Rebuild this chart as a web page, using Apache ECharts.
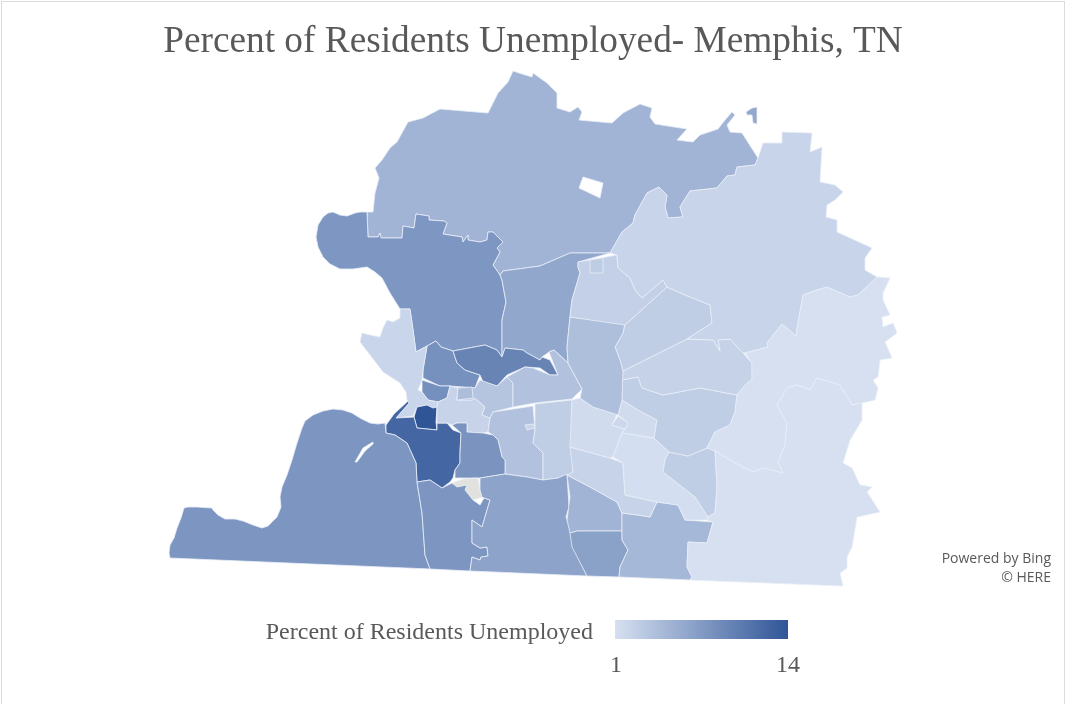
<!DOCTYPE html>
<html><head><meta charset="utf-8">
<style>html,body{margin:0;padding:0;background:#fff;overflow:hidden}#c{position:absolute;left:0;top:0;width:1066px;height:704px}
#f{position:absolute;left:1px;top:1px;width:1062px;height:710px;border:1px solid #dcdcdc;pointer-events:none}</style>
<script src="https://cdn.jsdelivr.net/npm/echarts@6/dist/echarts.min.js"></script>
</head><body><div id="c"></div><div id="f"></div>
<script>
const chartTitle = 'Percent of Residents Unemployed- Memphis, TN';
const legendTitle = 'Percent of Residents Unemployed';
const legendMin = 1, legendMax = 14;
const attribution = ['Powered by Bing', '© HERE'];
const rampColors = ['#D6E0F1','#2F5597'];

const regionNames = ['North','Island','Northwest','Central North','Frayser West','Frayser East','Small North','Riverside','Darkest','Downtown West','Midtown West','Midtown','Midtown Pocket','Midtown East','East A','East B','East Ring','South Central','No Data','Southwest','South A','South B','South C','South D','South E','Center A','Center B','Center C','Center D','Center Ring','Center E','Center F','Center G','Center H','Upper Center','Northeast','Upper Box','East Outer','Southeast','South Far'];
const regionValues = [5.1,6.2,7.85,6.3,8.4,9.6,8.5,2.0,14,12.4,2.2,3.6,4.2,3.8,3.8,2.8,2.0,8.2,null,7.9,7.9,6.7,5.1,6.9,4.7,2.2,1.5,1.5,1.2,1.8,2.7,2.8,2.3,2.8,4.1,2.5,2.9,2.1,1,1];

// Region outlines (map units), outer ring first, then any holes.
const regionShapes = {
'North':[[[367,212],[373,212],[375,193],[379,178],[375,168],[382,160],[390,148],[397,142],[408,122],[423,118],[440,109],[488,113],[498,93],[508,82],[513,71],[522,74],[532,77],[533,73],[547,83],[557,93],[557,108],[570,112],[578,107],[582,112],[579,120],[612,123],[623,113],[640,104],[652,108],[650,117],[655,124],[687,129],[677,140],[693,142],[700,135],[718,129],[725,120],[732,112],[735,115],[727,125],[730,132],[742,133],[758,158],[755,165],[737,167],[735,175],[727,176],[717,188],[690,191],[680,207],[683,217],[668,218],[665,207],[667,195],[659,187],[647,193],[635,215],[633,223],[622,232],[610,253],[570,253],[540,266],[503,271],[500,275],[493,265],[500,252],[497,248],[503,242],[493,232],[488,232],[487,240],[480,242],[468,240],[468,235],[463,242],[462,237],[443,234],[447,223],[444,221],[429,220],[429,216],[416,214],[414,228],[403,226],[402,238],[381,238],[380,233],[378,237],[368,237]],[[579,188],[600,198],[603,183],[583,177]]],
'Island':[[[746,112],[752,108],[757,107],[757,124],[753,123],[752,115],[747,115]]],
'Northwest':[[[367,212],[360,212],[355,213],[347,216],[340,215],[333,212],[328,213],[323,217],[318,225],[316,237],[318,247],[323,257],[330,264],[340,269],[353,269],[367,267],[375,272],[382,278],[390,293],[400,309],[410,309],[413,330],[416,352],[427,346],[436,341],[441,347],[453,351],[485,345],[497,350],[502,357],[502,320],[506,302],[502,280],[500,275],[493,265],[500,252],[497,248],[503,242],[493,232],[488,232],[487,240],[480,242],[468,240],[468,235],[463,242],[462,237],[443,234],[447,223],[444,221],[429,220],[429,216],[416,214],[414,228],[403,226],[402,238],[381,238],[380,233],[378,237],[368,237]]],
'Central North':[[[503,271],[540,266],[570,253],[610,253],[578,262],[578,267],[580,273],[572,300],[570,317],[567,347],[568,363],[554,350],[549,352],[542,357],[540,360],[527,353],[523,350],[505,348],[502,357],[502,320],[506,302],[502,280],[500,275]]],
'Frayser West':[[[427,346],[436,341],[441,347],[453,351],[457,363],[465,370],[480,375],[475,388],[450,386],[440,386],[423,378],[423,370]]],
'Frayser East':[[[453,351],[485,345],[497,350],[502,357],[505,348],[523,350],[527,353],[540,360],[542,357],[550,360],[558,375],[550,375],[540,368],[525,367],[507,375],[497,386],[483,382],[480,375],[465,370],[457,363]]],
'Small North':[[[422,380],[440,386],[450,386],[447,398],[438,402],[428,400],[422,392]]],
'Riverside':[[[410,309],[400,309],[400,318],[393,322],[387,320],[383,328],[380,337],[370,335],[362,333],[360,342],[370,355],[383,372],[400,383],[406,392],[407,400],[409,403],[396,418],[413,416],[417,407],[427,405],[433,408],[437,407],[438,402],[428,400],[422,392],[418,390],[422,380],[423,370],[427,346],[416,352],[413,330]]],
'Darkest':[[[414,417],[417,407],[427,405],[433,408],[437,407],[436,422],[437,430],[417,428]]],
'Downtown West':[[[386,425],[394,414],[408,401],[409,403],[396,418],[414,417],[417,428],[437,430],[437,423],[447,423],[453,430],[461,433],[460,453],[460,463],[455,470],[453,478],[450,482],[442,488],[430,480],[417,482],[416,463],[407,443],[395,435],[386,433]]],
'Midtown West':[[[438,402],[437,407],[437,423],[447,423],[452,425],[457,423],[467,423],[467,432],[483,433],[488,432],[490,418],[482,415],[485,407],[475,398],[472,400],[457,400],[458,388],[450,386],[447,398]]],
'Midtown':[[[458,387],[475,388],[480,380],[497,386],[507,377],[513,383],[513,407],[493,412],[490,418],[482,415],[485,407],[475,398],[472,400],[457,400]]],
'Midtown Pocket':[[[458,388],[472,387],[473,398],[457,400]]],
'Midtown East':[[[507,377],[525,367],[533,368],[550,375],[558,375],[549,352],[554,350],[568,363],[582,389],[572,399],[535,403],[513,407],[513,383]]],
'East A':[[[493,412],[533,406],[535,430],[533,443],[543,453],[543,480],[527,477],[505,474],[505,460],[502,457],[498,440],[493,435],[488,432],[490,418]]],
'East B':[[[535,404],[572,400],[572,447],[573,473],[558,478],[543,480],[543,453],[533,443],[535,430]]],
'East Ring':[[[525,425],[533,424],[535,428],[527,430]]],
'South Central':[[[461,433],[452,425],[457,423],[467,423],[467,432],[483,433],[493,435],[498,440],[502,457],[505,460],[505,474],[480,478],[455,478],[455,470],[460,463],[460,453]]],
'No Data':[[[452,483],[463,479],[478,478],[480,490],[482,497],[473,500],[465,490],[467,485],[457,487]]],
'Southwest':[[[385,423],[378,424],[370,423],[360,418],[352,413],[343,410],[333,409],[323,411],[313,415],[305,421],[302,428],[297,443],[292,460],[287,475],[282,487],[280,497],[281,507],[277,517],[268,526],[262,528],[253,525],[243,521],[235,519],[225,519],[218,515],[213,510],[212,508],[197,507],[188,507],[184,508],[181,518],[177,528],[174,538],[170,545],[169,553],[170,558],[430,569],[425,555],[422,513],[417,482],[416,463],[407,443],[395,435],[386,433]],[[355,462],[363,448],[373,442],[373,444],[365,451],[357,462]]],
'South A':[[[417,482],[430,480],[442,488],[452,483],[457,487],[467,485],[465,490],[473,500],[480,505],[484,498],[490,500],[482,527],[472,520],[472,543],[480,548],[487,547],[488,556],[481,557],[480,560],[472,557],[470,571],[430,569],[425,555],[422,513]]],
'South B':[[[480,478],[505,474],[527,477],[543,480],[558,478],[567,474],[569,507],[566,517],[571,530],[573,547],[587,576],[470,571],[472,557],[480,560],[481,557],[488,556],[487,547],[480,548],[472,543],[472,520],[482,527],[490,500],[484,498],[482,497],[480,490]]],
'South C':[[[567,475],[590,487],[617,502],[622,513],[622,531],[577,531],[570,533],[567,520],[570,497]]],
'South D':[[[577,531],[622,531],[622,540],[628,550],[620,567],[619,577],[587,576],[572,547],[570,533]]],
'South E':[[[622,513],[638,515],[650,517],[657,502],[678,505],[685,520],[713,522],[707,543],[688,542],[687,567],[692,577],[690,580],[619,577],[620,567],[628,550],[622,540]]],
'Center A':[[[570,447],[610,458],[623,463],[625,495],[657,502],[650,517],[638,515],[622,513],[617,502],[590,487],[567,475],[573,472]]],
'Center B':[[[572,400],[580,398],[593,407],[617,414],[612,425],[625,429],[622,433],[613,457],[610,458],[570,447]]],
'Center C':[[[622,400],[638,410],[657,420],[654,438],[622,433],[625,429],[628,423],[618,415]]],
'Center D':[[[622,433],[654,438],[669,452],[665,460],[663,472],[695,497],[708,517],[707,520],[685,520],[678,505],[657,502],[625,495],[623,463],[613,457]]],
'Center Ring':[[[618,416],[628,423],[625,429],[612,425]]],
'Center E':[[[669,452],[688,456],[707,448],[715,450],[717,487],[715,513],[708,517],[695,497],[663,472],[665,460]]],
'Center F':[[[622,380],[638,377],[642,388],[663,395],[700,388],[737,395],[735,412],[730,425],[715,432],[707,448],[688,456],[669,452],[654,438],[657,420],[638,410],[622,400]]],
'Center G':[[[623,371],[687,339],[713,340],[720,351],[718,340],[730,339],[743,353],[752,363],[752,380],[747,383],[737,395],[700,388],[663,395],[642,388],[638,377],[622,380]]],
'Center H':[[[625,325],[667,287],[685,295],[710,305],[712,323],[687,339],[623,371],[620,360],[615,347],[623,333]]],
'Upper Center':[[[570,317],[625,323],[623,333],[615,347],[620,360],[623,371],[622,400],[618,415],[593,407],[580,398],[582,389],[568,363],[567,347]]],
'Northeast':[[[578,262],[617,255],[618,268],[630,278],[635,290],[642,298],[663,280],[667,287],[625,325],[570,317],[572,300],[580,273],[578,267]]],
'Upper Box':[[[590,260],[603,258],[603,273],[590,273]]],
'East Outer':[[[758,158],[763,143],[782,143],[782,132],[812,133],[810,152],[822,147],[820,182],[835,185],[843,192],[835,200],[827,205],[826,217],[837,220],[837,232],[872,248],[865,258],[865,270],[877,277],[858,295],[850,297],[827,287],[817,290],[803,295],[798,323],[796,336],[782,324],[767,343],[768,347],[745,353],[743,353],[730,339],[718,340],[720,351],[713,340],[687,339],[712,323],[710,305],[685,295],[667,287],[663,280],[642,298],[635,290],[630,278],[618,268],[617,255],[610,253],[622,232],[633,223],[635,215],[647,193],[659,187],[667,195],[665,207],[668,218],[683,217],[680,207],[690,191],[717,188],[727,176],[735,175],[737,167],[755,165]]],
'Southeast':[[[877,277],[890,278],[883,293],[883,300],[890,315],[882,317],[883,327],[893,323],[897,333],[885,342],[892,358],[880,360],[878,377],[873,380],[878,388],[875,400],[862,403],[852,405],[840,385],[817,378],[810,390],[797,385],[787,388],[777,405],[787,423],[785,445],[778,462],[783,473],[763,468],[753,472],[735,463],[717,452],[707,448],[715,432],[730,425],[735,412],[737,395],[747,383],[752,380],[752,363],[745,353],[768,347],[767,343],[782,324],[796,336],[798,323],[803,295],[817,290],[827,287],[850,297],[858,295]]],
'South Far':[[[717,452],[735,463],[753,472],[763,468],[783,473],[778,462],[785,445],[787,423],[777,405],[787,388],[797,385],[810,390],[817,378],[840,385],[852,405],[862,403],[862,420],[850,440],[843,463],[852,468],[860,485],[872,487],[867,492],[880,512],[857,517],[852,547],[847,557],[847,568],[840,573],[843,586],[690,580],[692,577],[687,567],[688,542],[707,543],[713,522],[707,520],[708,517],[715,513],[717,487],[715,450]]]
};

const geojson = {type:'FeatureCollection',features:regionNames.map(n=>({type:'Feature',properties:{name:n},geometry:{type:'Polygon',coordinates:regionShapes[n]}}))};
echarts.registerMap('memphis',geojson);

let x0=1e9,x1=-1e9,y0=1e9,y1=-1e9;
regionNames.forEach(n=>regionShapes[n][0].forEach(p=>{x0=Math.min(x0,p[0]);x1=Math.max(x1,p[0]);y0=Math.min(y0,p[1]);y1=Math.max(y1,p[1]);}));

const chart = echarts.init(document.getElementById('c'),null,{renderer:'canvas'});
const grey='#595959', serif='"Liberation Serif","Times New Roman",serif';
const tStyle=(size,fam)=>({fontFamily:fam||serif,fontWeight:'normal',fontSize:size,color:grey});
chart.setOption({
  animation:false,
  backgroundColor:'#fff',
  title:[
    {text:chartTitle,left:528,top:19,textAlign:'center',textStyle:tStyle(37.3)},
    {text:legendTitle,left:588,top:616,textAlign:'right',textStyle:tStyle(24)},
    {text:String(legendMin),left:611,top:649,textAlign:'center',textStyle:tStyle(24)},
    {text:String(legendMax),left:783,top:649,textAlign:'center',textStyle:tStyle(24)},
    {text:attribution[0],left:1046,top:547,textAlign:'right',textStyle:tStyle(14,'"Open Sans",sans-serif')},
    {text:attribution[1],left:1046,top:566,textAlign:'right',textStyle:tStyle(14,'"Open Sans",sans-serif')}
  ],
  visualMap:{type:'continuous',show:false,min:legendMin,max:legendMax,inRange:{color:rampColors}},
  graphic:[{type:'rect',silent:true,shape:{x:615,y:620,width:173,height:19},
    style:{fill:new echarts.graphic.LinearGradient(0,0,1,0,[{offset:0,color:rampColors[0]},{offset:1,color:rampColors[1]}])}}],
  series:[{
    type:'map',map:'memphis',silent:true,roam:false,
    projection:{project:p=>p,unproject:p=>p},
    left:x0,top:y0,width:x1-x0,height:y1-y0,
    label:{show:false},
    itemStyle:{areaColor:'#E1E1DD',borderColor:'#E9EEF7',borderWidth:0.8},
    emphasis:{disabled:true},select:{disabled:true},
    data:regionNames.map((n,i)=>({name:n,value:regionValues[i]}))
  }]
});
</script></body></html>
